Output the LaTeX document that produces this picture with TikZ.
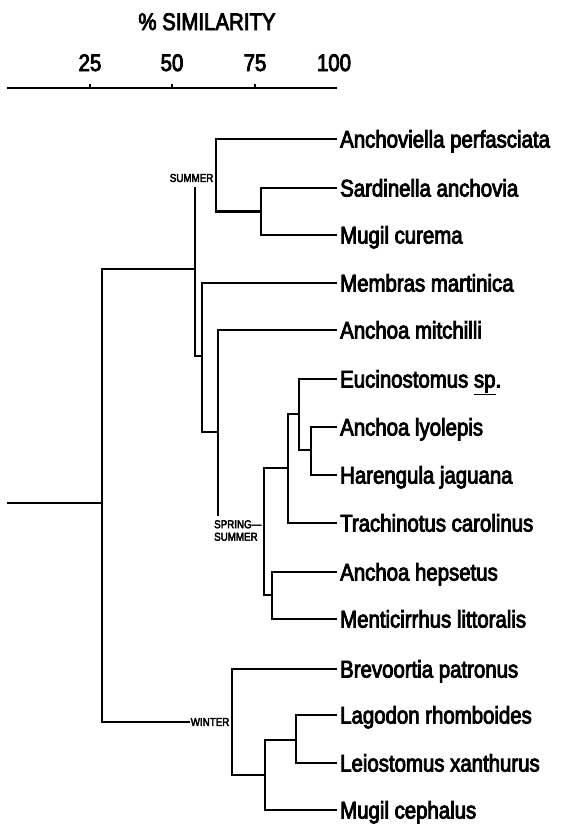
\documentclass[tikz,border=0pt]{standalone}
\usepackage{fontspec}
\setmainfont{Liberation Sans}[FakeStretch=0.85, FakeBold=3.5]
\begin{document}
\begin{tikzpicture}[x=1pt,y=-1pt,
  br/.style={line width=2.2pt, line cap=rect},
  leaf/.style={anchor=west, inner xsep=4pt, inner ysep=0pt, text height=17pt, text depth=0pt, font=\fontsize{24}{24}\selectfont},
  axlab/.style={anchor=base, inner sep=0pt, font=\fontsize{24}{24}\selectfont},
  season/.style={inner sep=1.5pt, font=\fontsize{11.5}{12.5}\selectfont, align=left}]
\useasboundingbox (0,0) rectangle (563,825);

% axis
\node[axlab] (title) at (207,30) {\% SIMILARITY};
\node[axlab] (n25) at (90,71) {25};
\node[axlab] (n50) at (172,71) {50};
\node[axlab] (n75) at (255,71) {75};
\node[axlab] (n100) at (334,71) {100};
\coordinate (ax0) at (7,88);
\coordinate (ax1) at (337,88);
\draw[line width=1.6pt] (ax0) -- (ax1);
\foreach \t in {90,172,255} \draw[line width=1.6pt] (\t,88) -- (\t,84);

% leaves
\node[leaf] (L1) at (336,139) {Anchoviella perfasciata};
\node[leaf] (L2) at (336,188) {Sardinella anchovia};
\node[leaf] (L3) at (336,235) {Mugil curema};
\node[leaf] (L4) at (336,283) {Membras martinica};
\node[leaf] (L5) at (336,330) {Anchoa mitchilli};
\node[leaf] (L6) at (336,379) {Eucinostomus \underline{sp}.};
\node[leaf] (L7) at (336,427) {Anchoa lyolepis};
\node[leaf] (L8) at (336,475) {Harengula jaguana};
\node[leaf] (L9) at (336,523) {Trachinotus carolinus};
\node[leaf] (L10) at (336,572) {Anchoa hepsetus};
\node[leaf] (L11) at (336,619) {Menticirrhus littoralis};
\node[leaf] (L12) at (336,669) {Brevoortia patronus};
\node[leaf] (L13) at (336,715) {Lagodon rhomboides};
\node[leaf] (L14) at (336,763) {Leiostomus xanthurus};
\node[leaf] (L15) at (336,810) {Mugil cephalus};

% season labels
\node[season, anchor=east] (sum) at (215,178) {SUMMER};
\node[season, anchor=north west, inner sep=0pt] (spr) at (214,520) {SPRING---\\SUMMER};
\node[season, anchor=east] (win) at (231,722) {WINTER};

% junctions
\coordinate (c1) at (261,211.5);
\coordinate (c2) at (216,176);
\coordinate (c3) at (195,269);
\coordinate (c3top) at (195,188);
\coordinate (c4) at (202,356);
\coordinate (c5) at (218,432);
\coordinate (c5end) at (218,515);
\coordinate (c6) at (264,527);
\coordinate (c7) at (288,468);
\coordinate (c8) at (272,595);
\coordinate (c9) at (299,414);
\coordinate (c10) at (311,450);
\coordinate (c11) at (232,722);
\coordinate (c12) at (265,775);
\coordinate (c13) at (296,740);
\coordinate (r) at (102,503);
\coordinate (rootend) at (8,503);

% summer
\draw[br] (c1) |- (L2.west);
\draw[br] (c1) |- (L3.west);
\draw[br] (c2) |- (L1.west);
\draw[br] (c2) |- (c1);
% spring-summer upper
\draw[br] (c3top) -- (c3) |- (c4);
\draw[br] (c4) |- (L4.west);
\draw[br] (c4) |- (c5);
\draw[br] (c5) |- (L5.west);
\draw[br] (c5) -- (c5end);
\draw[br] (c6) |- (c7);
\draw[br] (c6) |- (c8);
\draw[br] (c7) |- (c9);
\draw[br] (c7) |- (L9.west);
\draw[br] (c9) |- (L6.west);
\draw[br] (c9) |- (c10);
\draw[br] (c10) |- (L7.west);
\draw[br] (c10) |- (L8.west);
\draw[br] (c8) |- (L10.west);
\draw[br] (c8) |- (L11.west);
% root
\draw[br] (rootend) -- (r);
\draw[br] (r) |- (c3);
\draw[br] (r) |- (win.west);
% winter
\draw[br] (c11) |- (L12.west);
\draw[br] (c11) |- (c12);
\draw[br] (c12) |- (c13);
\draw[br] (c12) |- (L15.west);
\draw[br] (c13) |- (L13.west);
\draw[br] (c13) |- (L14.west);
\end{tikzpicture}
\end{document}
